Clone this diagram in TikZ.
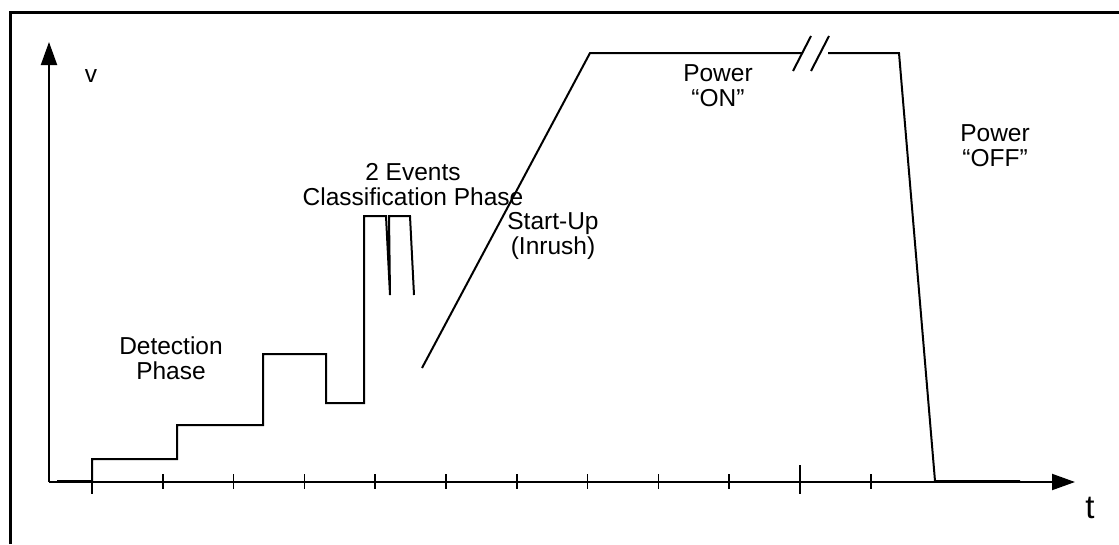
\documentclass[tikz,border=0pt]{standalone}
\usepackage{fontspec}
\setmainfont{Liberation Sans}
\usetikzlibrary{arrows.meta}
\begin{document}
\begin{tikzpicture}[x=1pt,y=-1pt,line join=miter,
  lbl/.style={font=\fontsize{24.5}{25}\selectfont,anchor=base,inner sep=0pt},
  sig/.style={line width=2pt},
  axisline/.style={line width=2pt,-{Triangle[length=23pt,width=16pt]}},
  shorttick/.style={line width=1.6pt},
  longtick/.style={line width=1.8pt}]
\useasboundingbox (0,0) rectangle (1119,544);
% frame (top and left edges visible)
\draw[line width=3pt] (10,544) -- (10,12) -- (1119,12);
% axes
\coordinate (O) at (49,482);
\coordinate (ytip) at (49,42);
\coordinate (xtip) at (1075,482);
\draw[axisline] (O) -- (ytip);
\draw[axisline] (O) -- (xtip);
% ticks
\foreach \k in {1,...,9,11}{
  \draw[shorttick] ({92+70.8*\k},474) -- ({92+70.8*\k},489);
}
\foreach \k in {0,10}{
  \draw[longtick] ({92+70.8*\k},465) -- ({92+70.8*\k},494);
}
% waveform
\draw[sig] (57,481) -- (92,481) -- (92,459) -- (177,459) -- (177,425) -- (263,425)
  -- (263,354) -- (326,354) -- (326,403) -- (364,403) -- (364,216) -- (386,216)
  -- (390,295) -- (389,216) -- (410,216) -- (414,295);
\draw[sig] (422,368) -- (590,53) -- (802,53);
\draw[sig] (793,71) -- (811,36);
\draw[sig] (811,71) -- (829,36);
\draw[sig] (828,53) -- (899,53) -- (935,481) -- (1020,481);
% labels
\node[lbl] (v) at (91,82) {v};
\node[lbl] (det1) at (171,354) {Detection};
\node[lbl] (det2) at (171,379) {Phase};
\node[lbl] (cls1) at (413,180) {2 Events};
\node[lbl] (cls2) at (413,205) {Classification Phase};
\node[lbl] (sup1) at (553,229) {Start-Up};
\node[lbl] (sup2) at (553,254) {(Inrush)};
\node[lbl] (on1) at (718,81) {Power};
\node[lbl] (on2) at (718,106) {“ON”};
\node[lbl] (off1) at (995,141) {Power};
\node[lbl] (off2) at (995,166) {“OFF”};
\node[font=\fontsize{33}{36}\selectfont,anchor=base,inner sep=0pt] (t) at (1090,518) {t};
\end{tikzpicture}
\end{document}
